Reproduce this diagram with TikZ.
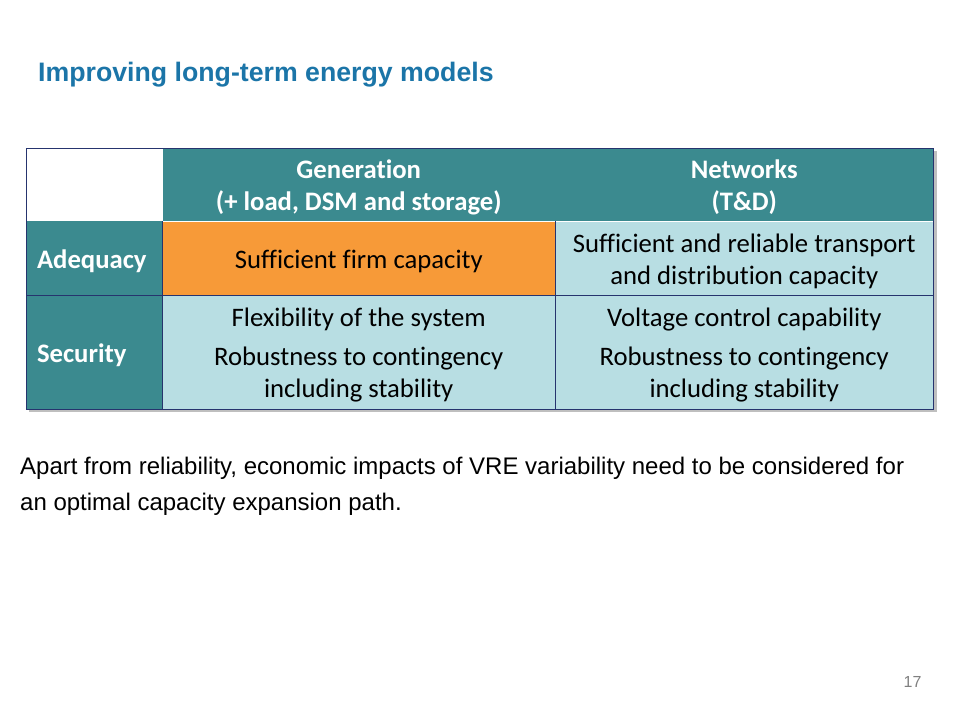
\documentclass[tikz,border=0pt]{standalone}
\usepackage{fontspec}
\setmainfont{Liberation Sans}
\newfontfamily\calib[Ligatures=NoCommon]{Carlito}
\definecolor{teal1}{RGB}{59,138,143}
\definecolor{orange1}{RGB}{247,154,56}
\definecolor{lblue}{RGB}{184,222,227}
\definecolor{navy}{RGB}{38,52,110}
\definecolor{titleblue}{RGB}{27,117,168}
\definecolor{pgray}{RGB}{128,128,128}
\tikzset{
  cell/.style={inner sep=0pt, outer sep=0pt},
  ctext/.style={inner sep=0pt, outer sep=0pt, align=center, font=\calib\fontsize{26.7}{32}\selectfont},
  htext/.style={ctext, text=white, font=\calib\bfseries\fontsize{26.7}{32}\selectfont},
  gridline/.style={draw=navy, line width=1pt},
}
\begin{document}
\begin{tikzpicture}[x=1pt,y=-1pt]
\useasboundingbox (0,0) rectangle (960,720);
\fill[white] (0,0) rectangle (960,720);
% title
\node[anchor=base west, inner sep=0pt, text=titleblue, font=\bfseries\fontsize{26.7}{30}\selectfont] (title) at (38,81) {Improving long-term energy models};
% shadow
\fill[black, opacity=0.25] (29,151) rectangle (936.5,412);
% cells
\node[cell, fill=white, minimum width=136.5pt, minimum height=73pt] (c00) at (94.25,184.5) {};
\node[cell, fill=teal1, minimum width=392.5pt, minimum height=73pt] (c01) at (358.75,184.5) {};
\node[cell, fill=teal1, minimum width=378.5pt, minimum height=73pt] (c02) at (744.25,184.5) {};
\node[cell, fill=teal1, minimum width=136.5pt, minimum height=74.5pt] (c10) at (94.25,258.25) {};
\node[cell, fill=orange1, minimum width=392.5pt, minimum height=74.5pt] (c11) at (358.75,258.25) {};
\node[cell, fill=lblue, minimum width=378.5pt, minimum height=74.5pt] (c12) at (744.25,258.25) {};
\node[cell, fill=teal1, minimum width=136.5pt, minimum height=113.5pt] (c20) at (94.25,352.25) {};
\node[cell, fill=lblue, minimum width=392.5pt, minimum height=113.5pt] (c21) at (358.75,352.25) {};
\node[cell, fill=lblue, minimum width=378.5pt, minimum height=113.5pt] (c22) at (744.25,352.25) {};
% cell texts
\node[htext] (t01) at ([yshift=-3pt]c01.center) {Generation\\(+ load, DSM and storage)};
\node[htext] (t02) at ([yshift=-3pt]c02.center) {Networks\\(T\&D)};
\node[htext, anchor=west] (t10) at ([xshift=11pt,yshift=-3pt]c10.west) {Adequacy};
\node[htext, anchor=west] (t20) at ([xshift=11pt,yshift=-3pt]c20.west) {Security};
\node[ctext] (t11) at ([yshift=-3pt]c11.center) {Sufficient firm capacity};
\node[ctext] (t12) at ([yshift=-3pt]c12.center) {Sufficient and reliable transport\\and distribution capacity};
\node[ctext] (t21) at ([yshift=-3pt]c21.center) {Flexibility of the system\\[7pt]Robustness to contingency\\including stability};
\node[ctext] (t22) at ([yshift=-3pt]c22.center) {Voltage control capability\\[7pt]Robustness to contingency\\including stability};
% grid lines
\draw[white, line width=1pt] (c01.south west) -- (c02.south east);
\draw[gridline] (c10.south west) -- (c12.south east);
\draw[gridline] (c10.north east) -- (c20.south east);
\draw[gridline] (c11.north east) -- (c21.south east);
\draw[gridline] (c00.north west) rectangle (c22.south east);
% body text
\node[anchor=base west, inner sep=0pt, font=\fontsize{24}{36}\selectfont, align=left] (body) at (20,510) {Apart from reliability, economic impacts of VRE variability need to be considered for\\an optimal capacity expansion path.};
\node[anchor=base, inner sep=0pt, text=pgray, font=\fontsize{16}{18}\selectfont] (pnum) at (912.5,687) {17};
\end{tikzpicture}
\end{document}
